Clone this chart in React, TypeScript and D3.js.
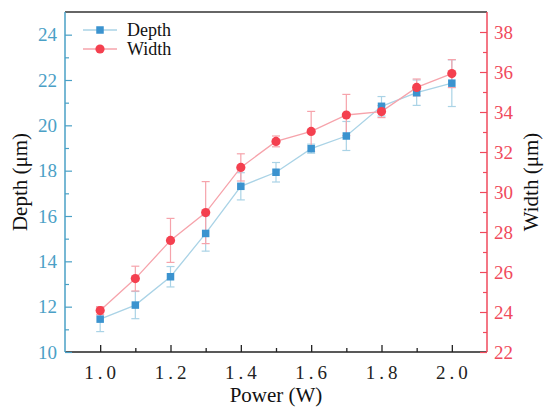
import { useEffect, useRef } from 'react'
import * as d3 from 'd3'

// Data
const power = [1.0, 1.1, 1.2, 1.3, 1.4, 1.5, 1.6, 1.7, 1.8, 1.9, 2.0]
const depth = [11.45, 12.07, 13.32, 15.23, 17.31, 17.93, 18.97, 19.53, 20.84, 21.44, 21.86]
const depthErr = [0.55, 0.6, 0.45, 0.78, 0.6, 0.43, 0.2, 0.64, 0.43, 0.56, 1.03]
const width = [24.07, 25.67, 27.58, 28.97, 31.23, 32.53, 33.03, 33.85, 34.02, 35.23, 35.92]
const widthErr = [0.2, 0.62, 1.1, 1.55, 0.68, 0.27, 1.0, 1.03, 0.3, 0.42, 0.7]
const xTicks = [1.0, 1.2, 1.4, 1.6, 1.8, 2.0]
const depthTicks = [10, 12, 14, 16, 18, 20, 22, 24]
const widthTicks = [22, 24, 26, 28, 30, 32, 34, 36, 38]

const BLUE = '#3b93cf'
const BLUE_AXIS = '#4aa0c6'
const BLUE_LIGHT = '#aad3e6'
const RED = '#f4404f'
const RED_AXIS = '#f04a5c'
const RED_LIGHT = '#f6a3ab'
const FONT = '"Liberation Serif", "Times New Roman", serif'

export default function App() {
  const ref = useRef<SVGSVGElement>(null)

  useEffect(() => {
    document.body.style.margin = '0'
    if (!ref.current) return
    const svg = d3.select(ref.current)
    svg.selectAll('*').remove()

    const left = 65, right = 487, top = 12, bottom = 352

    const x = d3.scaleLinear().domain([0.9, 2.1]).range([left, right])
    const yL = d3.scaleLinear().domain([10, 25]).range([bottom, top])
    const yR = d3.scaleLinear().domain([22, 39]).range([bottom, top])

    svg.append('rect').attr('width', 550).attr('height', 416).attr('fill', '#fff')

    // top frame line
    svg.append('line')
      .attr('x1', left).attr('x2', right).attr('y1', top).attr('y2', top)
      .attr('stroke', '#333').attr('stroke-width', 1.5)

    // bottom axis
    const gx = svg.append('g').attr('transform', `translate(0,${bottom})`)
    gx.call(d3.axisBottom(x).tickValues(d3.range(1.0, 2.05, 0.1)).tickSize(-4).tickFormat(() => ''))
    gx.call(g => g.selectAll('.tick line').attr('stroke', '#222').attr('stroke-width', 1.3))
    gx.select('.domain').remove()
    gx.selectAll('.tick').filter((d: any) => xTicks.some(t => Math.abs(t - d) < 1e-6))
      .select('line').attr('y2', -7)
    gx.append('line').attr('x1', left).attr('x2', right).attr('stroke', '#222').attr('stroke-width', 1.5)
    xTicks.forEach(t => {
      gx.append('text')
        .attr('x', x(t) + 2).attr('y', 27)
        .attr('text-anchor', 'middle')
        .style('font-family', FONT).style('font-size', '19px').style('letter-spacing', '4px')
        .attr('fill', '#222')
        .text(d3.format('.1f')(t))
    })

    // left axis
    const gl = svg.append('g').attr('transform', `translate(${left},0)`)
    gl.call(d3.axisRight(yL).tickValues(d3.range(10, 25, 1)).tickSize(4).tickFormat(() => ''))
    gl.select('.domain').remove()
    gl.selectAll('.tick line').attr('stroke', BLUE_AXIS).attr('stroke-width', 1.2)
    gl.selectAll('.tick').filter((d: any) => depthTicks.includes(d)).select('line').attr('x2', 7)
    gl.append('line').attr('y1', top).attr('y2', bottom).attr('stroke', BLUE_AXIS).attr('stroke-width', 1.5)
    depthTicks.forEach(t => {
      gl.append('text')
        .attr('x', -8).attr('y', yL(t) + 6.5)
        .attr('text-anchor', 'end')
        .style('font-family', FONT).style('font-size', '19px')
        .attr('fill', BLUE_AXIS)
        .text(t)
    })

    // right axis
    const gr = svg.append('g').attr('transform', `translate(${right},0)`)
    gr.call(d3.axisLeft(yR).tickValues(d3.range(22, 39, 1)).tickSize(4).tickFormat(() => ''))
    gr.select('.domain').remove()
    gr.selectAll('.tick line').attr('stroke', RED_AXIS).attr('stroke-width', 1.2)
    gr.selectAll('.tick').filter((d: any) => widthTicks.includes(d)).select('line').attr('x2', -7)
    gr.append('line').attr('y1', top).attr('y2', bottom).attr('stroke', RED_AXIS).attr('stroke-width', 1.5)
    widthTicks.forEach(t => {
      gr.append('text')
        .attr('x', 7).attr('y', yR(t) + 6.5)
        .attr('text-anchor', 'start')
        .style('font-family', FONT).style('font-size', '19px')
        .attr('fill', RED_AXIS)
        .text(t)
    })

    // axis titles
    svg.append('text')
      .attr('transform', `translate(27,${(top + bottom) / 2}) rotate(-90)`)
      .attr('text-anchor', 'middle')
      .style('font-family', FONT).style('font-size', '21px').attr('fill', '#111')
      .text('Depth (μm)')
    svg.append('text')
      .attr('transform', `translate(538,${(top + bottom) / 2}) rotate(-90)`)
      .attr('text-anchor', 'middle')
      .style('font-family', FONT).style('font-size', '21px').attr('fill', '#111')
      .text('Width (μm)')
    svg.append('text')
      .attr('x', (left + right) / 2).attr('y', 402)
      .attr('text-anchor', 'middle')
      .style('font-family', FONT).style('font-size', '21px').attr('fill', '#111')
      .text('Power (W)')

    const idx = d3.range(power.length)

    // error bars
    const drawErr = (vals: number[], errs: number[], y: d3.ScaleLinear<number, number>, color: string) => {
      const g = svg.append('g').attr('stroke', color).attr('stroke-width', 1.2)
      idx.forEach(i => {
        const cx = x(power[i])
        const y1 = y(vals[i] - errs[i]), y2 = y(vals[i] + errs[i])
        g.append('line').attr('x1', cx).attr('x2', cx).attr('y1', y1).attr('y2', y2)
        g.append('line').attr('x1', cx - 4).attr('x2', cx + 4).attr('y1', y1).attr('y2', y1)
        g.append('line').attr('x1', cx - 4).attr('x2', cx + 4).attr('y1', y2).attr('y2', y2)
      })
    }
    drawErr(depth, depthErr, yL, BLUE_LIGHT)
    drawErr(width, widthErr, yR, RED_LIGHT)

    // lines
    svg.append('path')
      .datum(idx)
      .attr('fill', 'none').attr('stroke', BLUE_LIGHT).attr('stroke-width', 1.3)
      .attr('d', d3.line<number>().x(i => x(power[i])).y(i => yL(depth[i])))
    svg.append('path')
      .datum(idx)
      .attr('fill', 'none').attr('stroke', RED_LIGHT).attr('stroke-width', 1.3)
      .attr('d', d3.line<number>().x(i => x(power[i])).y(i => yR(width[i])))

    // markers
    const sq = 7.5
    svg.append('g').selectAll('rect').data(idx).join('rect')
      .attr('x', i => x(power[i]) - sq / 2).attr('y', i => yL(depth[i]) - sq / 2)
      .attr('width', sq).attr('height', sq).attr('fill', BLUE)
    svg.append('g').selectAll('circle').data(idx).join('circle')
      .attr('cx', i => x(power[i])).attr('cy', i => yR(width[i]))
      .attr('r', 4.6).attr('fill', RED)

    // legend
    const legend = svg.append('g').attr('transform', 'translate(83,30)')
    const items = [
      { label: 'Depth', color: BLUE, light: BLUE_LIGHT, shape: 'square' },
      { label: 'Width', color: RED, light: RED_LIGHT, shape: 'circle' }
    ]
    items.forEach((item, i) => {
      const row = legend.append('g').attr('transform', `translate(0,${i * 19})`)
      row.append('line').attr('x1', 0).attr('x2', 34).attr('stroke', item.light).attr('stroke-width', 1.3)
      if (item.shape === 'square') {
        row.append('rect').attr('x', 17 - sq / 2).attr('y', -sq / 2).attr('width', sq).attr('height', sq).attr('fill', item.color)
      } else {
        row.append('circle').attr('cx', 17).attr('r', 4.6).attr('fill', item.color)
      }
      row.append('text')
        .attr('x', 44).attr('y', 6)
        .style('font-family', FONT).style('font-size', '18px').attr('fill', '#111')
        .text(item.label)
    })
  }, [])

  return <svg ref={ref} width={550} height={416} style={{ display: 'block' }} />
}
